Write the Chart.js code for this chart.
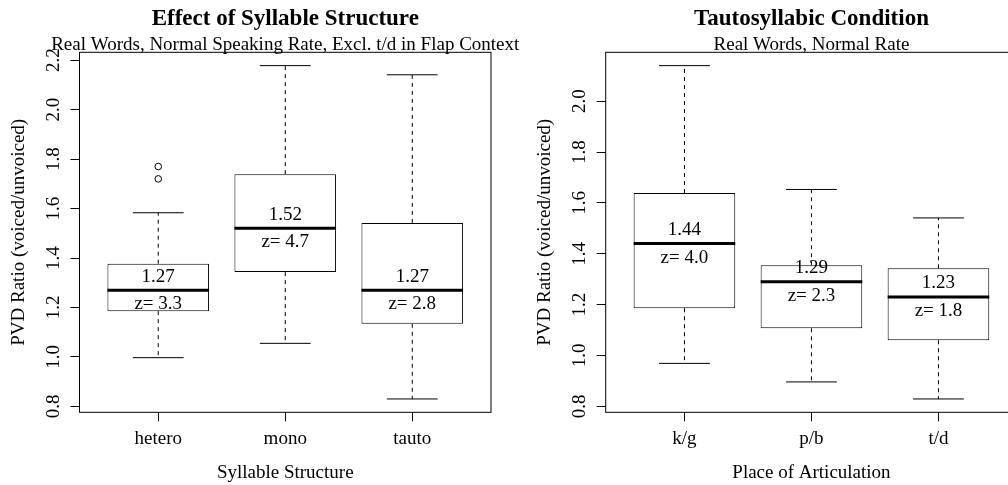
<!DOCTYPE html>
<html>
<head>
<meta charset="utf-8">
<script src="https://cdn.jsdelivr.net/npm/chart.js@4/dist/chart.umd.min.js"></script>
<style>
  html, body { margin: 0; padding: 0; background: #fff; overflow: hidden; width: 1008px; height: 485px; }
  .panel { position: absolute; top: 0; }
  #leftPanel { left: 0; }
  #rightPanel { left: 504px; }
  canvas { display: block; }
</style>
</head>
<body>
<div class="panel" id="leftPanel"><canvas id="syllable" width="540" height="485" style="width:540px;height:485px"></canvas></div>
<div class="panel" id="rightPanel"><canvas id="place" width="530" height="485" style="width:530px;height:485px"></canvas></div>
<script>
// ---- Effect of syllable structure ----
const syllableCategories = ['hetero', 'mono', 'tauto'];
const syllableLowerWhisker = [0.997, 1.055, 0.830];
const syllableQ1 = [1.185, 1.343, 1.134];
const syllableMedian = [1.27, 1.52, 1.27];
const syllableQ3 = [1.377, 1.739, 1.542];
const syllableUpperWhisker = [1.583, 2.178, 2.141];
const syllableOutliers = [[1.72, 1.77], [], []];
const syllableZ = [3.3, 4.7, 2.8];
const syllableTicks = [0.8, 1.0, 1.2, 1.4, 1.6, 1.8, 2.0, 2.2];

// ---- Tautosyllabic condition, by place of articulation ----
const placeCategories = ['k/g', 'p/b', 't/d'];
const placeLowerWhisker = [0.969, 0.896, 0.829];
const placeQ1 = [1.186, 1.107, 1.060];
const placeMedian = [1.44, 1.29, 1.23];
const placeQ3 = [1.639, 1.355, 1.343];
const placeUpperWhisker = [2.140, 1.653, 1.541];
const placeOutliers = [[], [], []];
const placeZ = [4.0, 2.3, 1.8];
const placeTicks = [0.8, 1.0, 1.2, 1.4, 1.6, 1.8, 2.0];

const FAMILY = '"Liberation Serif", "Times New Roman", serif';
Chart.defaults.font.family = FAMILY;
Chart.defaults.color = '#000';

// Frame, median/z annotations and headings
const panelDecor = {
  id: 'panelDecor',
  afterDatasetsDraw(chart, args, opts) {
    const { ctx, chartArea: a, scales: { x, y } } = chart;
    ctx.save();
    ctx.strokeStyle = '#000';
    ctx.lineWidth = 1;
    ctx.strokeRect(a.left, a.top, a.right - a.left, a.bottom - a.top);

    ctx.fillStyle = '#000';
    ctx.textAlign = 'center';
    ctx.textBaseline = 'middle';
    ctx.font = '19px ' + FAMILY;
    opts.medians.forEach((m, i) => {
      const px = x.getPixelForValue(i + 1);
      const py = y.getPixelForValue(m);
      ctx.fillText(m.toFixed(2), px, py - 13.5);
      ctx.fillText('z= ' + opts.z[i].toFixed(1), px, py + 14);
    });

    const cx = (a.left + a.right) / 2;
    ctx.textBaseline = 'alphabetic';
    ctx.font = 'bold 23px ' + FAMILY;
    ctx.fillText(opts.title, cx, 25);
    ctx.font = '19px ' + FAMILY;
    ctx.fillText(opts.subtitle, cx, 50);
    ctx.restore();
  }
};

function drawBoxplot(canvasId, d, frame) {
  const n = d.categories.length;
  const pos = d.categories.map((_, i) => i + 1);

  const boxes = pos.map((x, i) => ({ x, y: [d.q1[i], d.q3[i]] }));
  const whiskers = [];
  const caps = [];
  const medians = [];
  pos.forEach((x, i) => {
    whiskers.push({ x, y: d.q3[i] }, { x, y: d.upper[i] }, { x, y: null },
                  { x, y: d.q1[i] }, { x, y: d.lower[i] }, { x, y: null });
    caps.push({ x: x - 0.2, y: d.upper[i] }, { x: x + 0.2, y: d.upper[i] }, { x, y: null },
              { x: x - 0.2, y: d.lower[i] }, { x: x + 0.2, y: d.lower[i] }, { x, y: null });
    medians.push({ x: x - 0.4, y: d.median[i] }, { x: x + 0.4, y: d.median[i] }, { x, y: null });
  });
  const outliers = [];
  d.outliers.forEach((vals, i) => vals.forEach(v => outliers.push({ x: i + 1, y: v })));

  // axis limits padded by 4% of the data range
  const all = d.lower.concat(d.upper, d.outliers.flat());
  const lo = Math.min(...all), hi = Math.max(...all), ext = (hi - lo) * 0.04;
  const xLo = 0.5 - 0.04 * n, xHi = n + 0.5 + 0.04 * n;

  const font = { family: FAMILY, size: 19 };
  const canvas = document.getElementById(canvasId);

  return new Chart(canvas, {
    type: 'bar',
    data: {
      datasets: [
        { type: 'line', data: medians, borderColor: '#000', borderWidth: 3, borderCapStyle: 'butt',
          pointRadius: 0, spanGaps: false, fill: false, order: 0 },
        { type: 'bar', data: boxes, backgroundColor: '#fff', borderColor: '#000', borderWidth: 1,
          borderSkipped: false, barPercentage: 0.8, categoryPercentage: 1, order: 1 },
        { type: 'line', data: whiskers, borderColor: '#000', borderWidth: 1, borderDash: [4, 4],
          pointRadius: 0, spanGaps: false, fill: false, order: 2 },
        { type: 'line', data: caps, borderColor: '#000', borderWidth: 1,
          pointRadius: 0, spanGaps: false, fill: false, order: 2 },
        { type: 'scatter', data: outliers, pointStyle: 'circle', pointRadius: 3.3, pointBorderWidth: 1,
          pointBackgroundColor: 'rgba(0,0,0,0)', pointBorderColor: '#000', order: 2 }
      ]
    },
    options: {
      responsive: false,
      animation: false,
      events: [],
      layout: { padding: { top: frame.top, left: 0, right: frame.canvasWidth - frame.right, bottom: 0 } },
      plugins: {
        legend: { display: false },
        tooltip: { enabled: false },
        title: { display: false },
        panelDecor: { medians: d.median, z: d.z, title: d.title, subtitle: d.subtitle }
      },
      scales: {
        x: {
          type: 'linear', min: xLo, max: xHi, bounds: 'data', offset: false,
          afterBuildTicks: s => { s.ticks = pos.map(v => ({ value: v })); },
          afterFit: s => { s.height = 485 - frame.bottom; },
          grid: { display: true, drawOnChartArea: false, drawTicks: true, tickLength: 9,
                  color: '#000', lineWidth: 1, offset: false },
          border: { display: false },
          ticks: { autoSkip: false, minRotation: 0, maxRotation: 0, padding: 6, color: '#000', font,
                   callback: (v, i) => d.categories[i] },
          title: { display: true, text: d.xTitle, color: '#000', font, padding: { top: 0, bottom: 0.5 } }
        },
        y: {
          type: 'linear', min: lo - ext, max: hi + ext, bounds: 'data',
          afterBuildTicks: s => { s.ticks = d.ticks.map(v => ({ value: v })); },
          afterFit: s => { s.width = frame.left; },
          grid: { display: true, drawOnChartArea: false, drawTicks: true, tickLength: 9,
                  color: '#000', lineWidth: 1, offset: false },
          border: { display: false },
          ticks: { autoSkip: false, minRotation: 90, maxRotation: 90, crossAlign: 'center', padding: 4.6,
                   color: '#000', font, callback: v => Number(v).toFixed(1) },
          title: { display: true, text: 'PVD Ratio (voiced/unvoiced)', color: '#000', font,
                   padding: { top: frame.yTitlePad, bottom: 0 } }
        }
      }
    },
    plugins: [panelDecor]
  });
}

drawBoxplot('syllable', {
  categories: syllableCategories, lower: syllableLowerWhisker, q1: syllableQ1, median: syllableMedian,
  q3: syllableQ3, upper: syllableUpperWhisker, outliers: syllableOutliers, z: syllableZ, ticks: syllableTicks,
  title: 'Effect of Syllable Structure',
  subtitle: 'Real Words, Normal Speaking Rate, Excl. t/d in Flap Context',
  xTitle: 'Syllable Structure'
}, { canvasWidth: 540, left: 79.5, right: 491, top: 52.3, bottom: 412.3, yTitlePad: 7.8 });

drawBoxplot('place', {
  categories: placeCategories, lower: placeLowerWhisker, q1: placeQ1, median: placeMedian,
  q3: placeQ3, upper: placeUpperWhisker, outliers: placeOutliers, z: placeZ, ticks: placeTicks,
  title: 'Tautosyllabic Condition',
  subtitle: 'Real Words, Normal Rate',
  xTitle: 'Place of Articulation'
}, { canvasWidth: 530, left: 101.7, right: 513.2, top: 52.3, bottom: 412.3, yTitlePad: 29.5 });
</script>
</body>
</html>
